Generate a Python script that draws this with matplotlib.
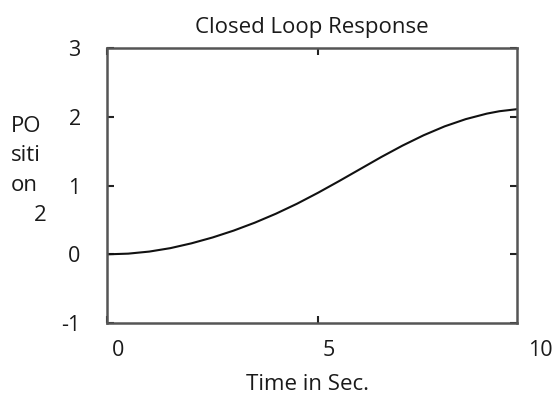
import matplotlib
matplotlib.use("Agg")
import matplotlib.pyplot as plt
import matplotlib.transforms as mtrans

# values
tijd = [0, 0.5, 1, 1.5, 2, 2.5, 3, 3.5, 4, 4.5, 5, 5.5, 6, 6.5, 7, 7.5, 8, 8.5, 9, 9.3, 9.72]
pozicija = [0, 0.01, 0.04, 0.09, 0.16, 0.245, 0.345, 0.46, 0.59, 0.735, 0.895, 1.065, 1.24, 1.415, 1.58, 1.73, 1.86, 1.965, 2.045, 2.08, 2.11]
xtickovi = [0, 5, 10]
xlabele = ["0", "5", "10"]
ytickovi = [-1, 0, 1, 2, 3]

plt.rcParams['font.family'] = ['Open Sans', 'DejaVu Sans']
plt.rcParams['axes.unicode_minus'] = False
siva = "#555555"
tekst = "#1a1a1a"
vel = 16
velTick = 15.5

fig = plt.figure(figsize=(5.52, 3.96), dpi=100)
ax = fig.add_axes([0.194, 0.184, 0.743, 0.695])

ax.plot(tijd, pozicija, color="#111111", lw=1.5, solid_joinstyle="round")

ax.set_xlim(0, 9.72)
ax.set_ylim(-1, 3)
for s in ax.spines.values():
	s.set_color(siva)
	s.set_linewidth(1.8)

ax.set_xticks([0, 5])
ax.set_xticklabels([])
ax.set_yticks(ytickovi)
ax.tick_params(direction="in", length=5, width=1.5, color="#222222",
	top=True, right=True, labelsize=velTick, labelcolor=tekst, pad=19)

# x labels sit a bit right of their ticks in the original
pomak = mtrans.offset_copy(ax.get_xaxis_transform(), fig=fig, x=11, y=0, units="dots")
for t, lab in zip(xtickovi, xlabele):
	ax.text(t, -0.10, lab, transform=pomak, ha="center", va="center",
		fontsize=velTick, color=tekst)

ax.set_title("Closed Loop Response", fontsize=vel, color=tekst, pad=11)
fig.text(0.557, 0.03, "Time in Sec.", ha="center", va="center", fontsize=vel, color=tekst)
fig.text(0.02, 0.708, "PO\nsiti\non\n    2", ha="left", va="top",
	fontsize=vel, color=tekst, linespacing=1.55)

fig.savefig("out.png", dpi=100)
